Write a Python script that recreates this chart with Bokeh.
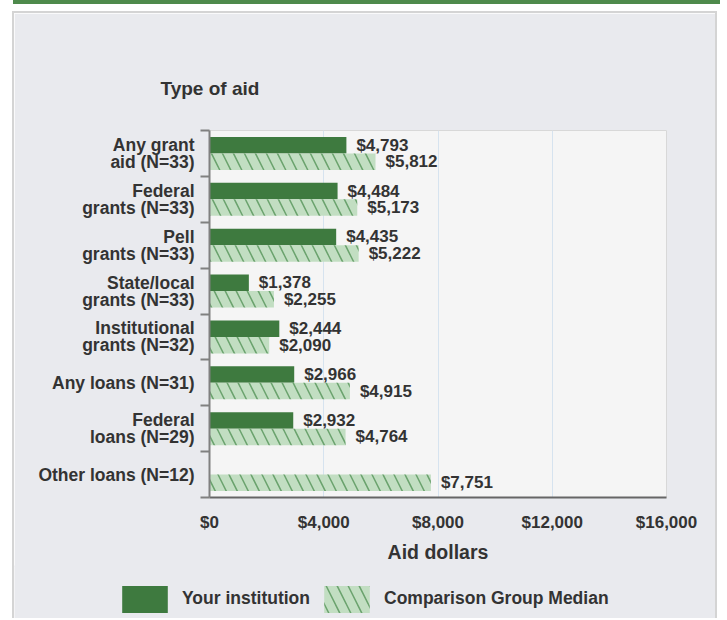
from bokeh.plotting import figure
from bokeh.models import (Range1d, FixedTicker, NumeralTickFormatter, ColumnDataSource,
                          LabelSet, Legend, LegendItem, Div)
from bokeh.layouts import column
from bokeh.core.properties import value
from bokeh.embed import file_html
from bokeh.resources import INLINE

categories = [
    "Any grant\naid (N=33)",
    "Federal\ngrants (N=33)",
    "Pell\ngrants (N=33)",
    "State/local\ngrants (N=33)",
    "Institutional\ngrants (N=32)",
    "Any loans (N=31)",
    "Federal\nloans (N=29)",
    "Other loans (N=12)",
]
your_institution = [4793, 4484, 4435, 1378, 2444, 2966, 2932, None]
comparison_median = [5812, 5173, 5222, 2255, 2090, 4915, 4764, 7751]
x_ticks = [0, 4000, 8000, 12000, 16000]

FONT = "Liberation Sans"
TXT = "#333333"
DARK = "#3E7A3F"
LIGHT = "#C2DEC2"
HATCH = "#2F7A33"
PANEL = "#E9EAEE"
BORDER = "2px solid #D4D4D4"

n = len(categories)
centers = [n - i - 0.5 for i in range(n)]
boundaries = list(range(n + 1))
off = 0.18
bh = 0.36

ys, yx, yl = [], [], []
for c, v in zip(centers, your_institution):
    if v is not None:
        ys.append(c + off); yx.append(v); yl.append(f"${v:,}")
src_y = ColumnDataSource(dict(y=ys, x=yx, label=yl))
src_c = ColumnDataSource(dict(y=[c - off for c in centers], x=comparison_median,
                              label=[f"${v:,}" for v in comparison_median]))

dark_style = dict(fill_color=DARK, line_color=None)
light_style = dict(fill_color=LIGHT, line_color=None, hatch_pattern="\\", hatch_color=HATCH,
                   hatch_weight=1.5, hatch_scale=22, hatch_alpha=0.6)

p = figure(width=705, height=556, output_backend="svg", toolbar_location=None,
           x_range=Range1d(0, 16000), y_range=Range1d(0, n),
           min_border_left=195, min_border_right=53, min_border_top=117, min_border_bottom=72,
           margin=(7, 0, 0, 12),
           styles={"border-left": BORDER, "border-right": BORDER, "border-top": BORDER})
p.border_fill_color = PANEL
p.background_fill_color = "#F5F5F5"
p.outline_line_color = "#D8D8D8"

p.hbar(y="y", right="x", left=0, height=bh, source=src_y, **dark_style)
p.hbar(y="y", right="x", left=0, height=bh, source=src_c, **light_style)

for s in (src_y, src_c):
    p.add_layout(LabelSet(x="x", y="y", text="label", source=s, x_offset=10, y_offset=0,
                          text_baseline="middle", text_font=value(FONT), text_font_style="bold",
                          text_font_size="17px", text_color=TXT))

# y axis
p.yaxis.ticker = FixedTicker(ticks=centers, minor_ticks=boundaries)
p.yaxis.major_label_overrides = {c: lab for c, lab in zip(centers, categories)}
p.yaxis.major_tick_out = 0
p.yaxis.major_tick_in = 0
p.yaxis.minor_tick_out = 9
p.yaxis.minor_tick_in = 0
p.yaxis.minor_tick_line_color = "#808080"
p.yaxis.minor_tick_line_width = 2
p.yaxis.axis_line_color = "#808080"
p.yaxis.axis_line_width = 2
p.yaxis.major_label_standoff = 6
p.yaxis.major_label_text_font = FONT
p.yaxis.major_label_text_font_style = "bold"
p.yaxis.major_label_text_font_size = "17.5px"
p.yaxis.major_label_text_color = TXT
p.yaxis.major_label_text_line_height = 0.85

# x axis
p.xaxis.ticker = FixedTicker(ticks=x_ticks)
p.xaxis.formatter = NumeralTickFormatter(format="$0,0")
p.xaxis.major_tick_out = 0
p.xaxis.major_tick_in = 0
p.xaxis.minor_tick_out = 0
p.xaxis.axis_line_color = "#666666"
p.xaxis.axis_line_width = 2
p.xaxis.major_label_standoff = 15
p.xaxis.major_label_text_font = FONT
p.xaxis.major_label_text_font_style = "bold"
p.xaxis.major_label_text_font_size = "17px"
p.xaxis.major_label_text_color = TXT
p.xaxis.axis_label = "Aid dollars"
p.xaxis.axis_label_standoff = 6
p.xaxis.axis_label_text_font = FONT
p.xaxis.axis_label_text_font_style = "bold"
p.xaxis.axis_label_text_font_size = "19.5px"
p.xaxis.axis_label_text_color = TXT

p.xgrid.grid_line_color = "#D6E3EF"
p.xgrid.grid_line_width = 1
p.ygrid.grid_line_color = None

p.title.text = "Type of aid"
p.title.align = "left"
p.title.offset = -49
p.title.standoff = 63
p.title.text_font = FONT
p.title.text_font_style = "bold"
p.title.text_font_size = "19px"
p.title.text_color = TXT

# legend strip (separate canvas so it is not clipped by the plot frame);
# its renderers reuse the data sources, with ranges that keep the bars out of view
pl = figure(width=705, height=53, output_backend="svg", toolbar_location=None,
            x_range=Range1d(0, 1), y_range=Range1d(100, 101),
            x_axis_location=None, y_axis_location=None,
            min_border=0, margin=(0, 0, 0, 12),
            styles={"border-left": BORDER, "border-right": BORDER, "margin-top": "-2px"})
pl.border_fill_color = PANEL
pl.background_fill_color = PANEL
pl.outline_line_color = None
pl.grid.grid_line_color = None
l1 = pl.hbar(y="y", right="x", left=0, height=bh, source=src_y, **dark_style)
l2 = pl.hbar(y="y", right="x", left=0, height=bh, source=src_c, **light_style)
legend = Legend(items=[LegendItem(label="Your institution", renderers=[l1]),
                       LegendItem(label="Comparison Group Median", renderers=[l2])],
                orientation="horizontal", location=(102, 2.5),
                glyph_width=57, glyph_height=34, label_standoff=9, spacing=8,
                padding=0, margin=0, border_line_alpha=0, background_fill_alpha=0,
                label_text_font=FONT, label_text_font_style="bold",
                label_text_font_size="17.5px", label_text_color=TXT)
pl.add_layout(legend, "center")

top_bar = Div(text="", width=707, height=4, margin=(0, 0, 0, 13),
              styles={"background-color": "#4E8A4C"})
main = column(top_bar, p, styles={"background-color": "white"})

open("out.html", "w").write(file_html([main, pl], INLINE))
